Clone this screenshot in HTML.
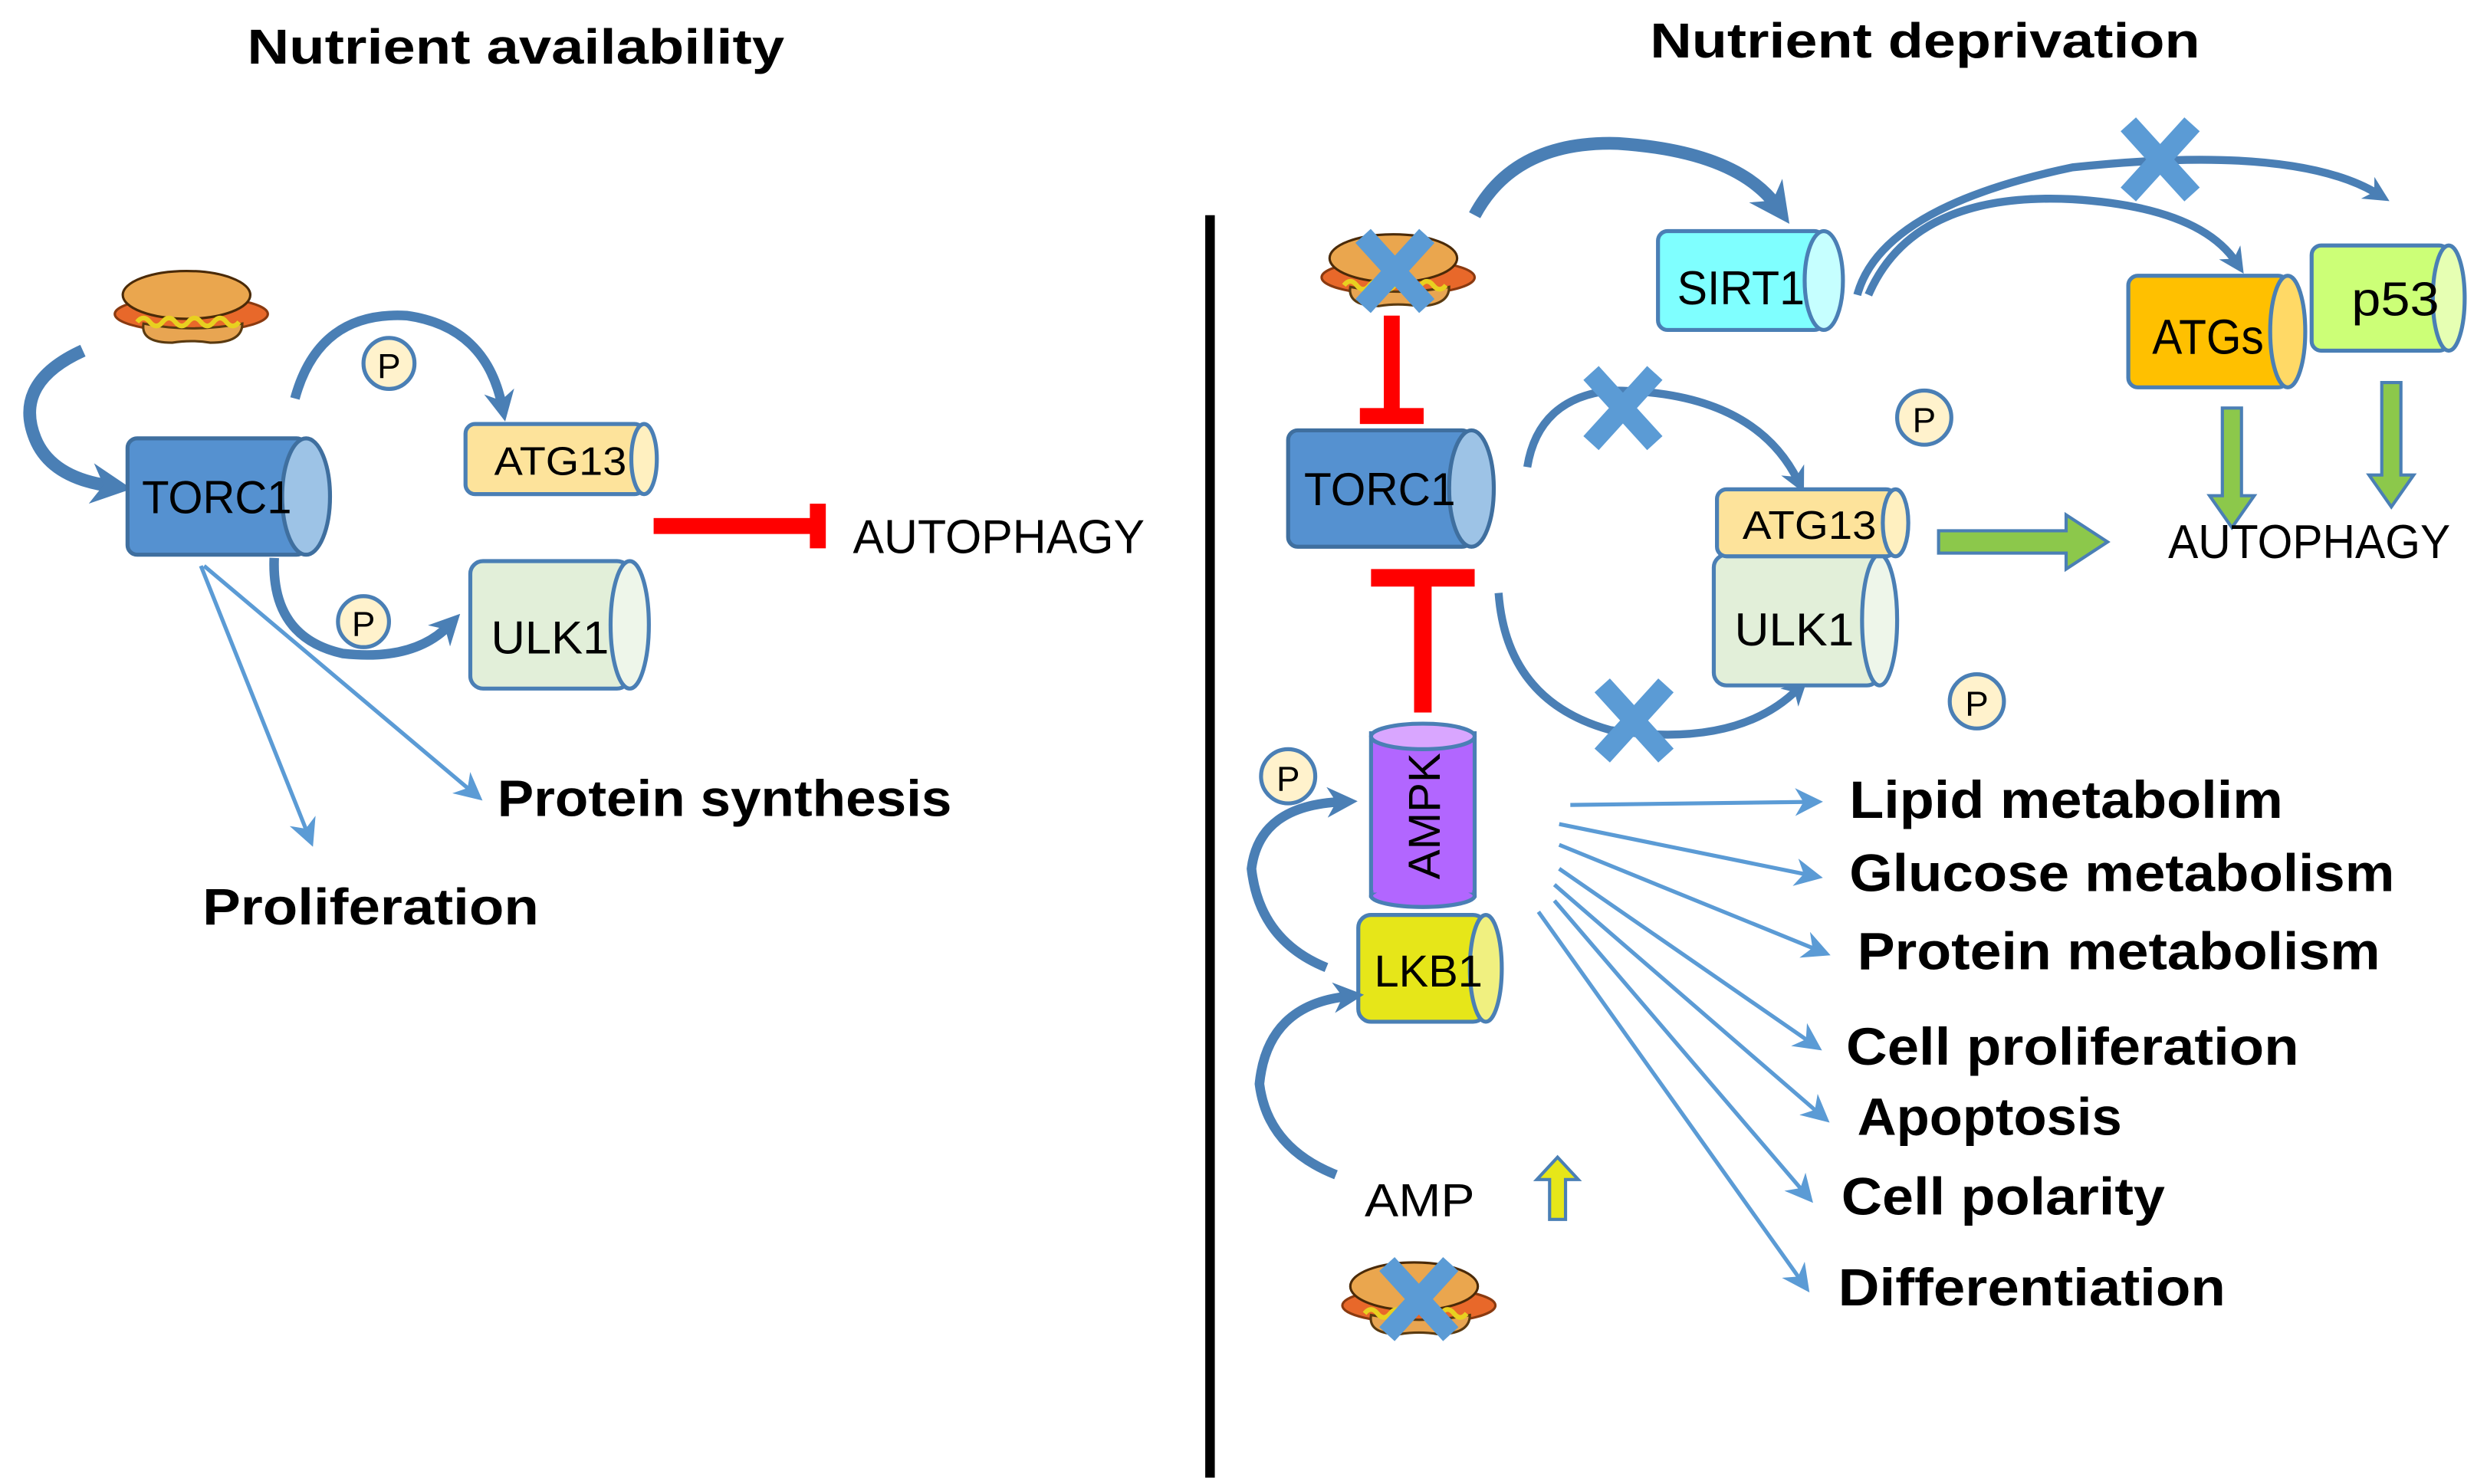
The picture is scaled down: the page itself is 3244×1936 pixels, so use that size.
<!DOCTYPE html>
<html><head><meta charset="utf-8"><style>
html,body{margin:0;padding:0;background:#fff}
svg{display:block}
text{font-family:"Liberation Sans",sans-serif}
.b{font-weight:bold}
</style></head><body>
<svg width="3244" height="1936" viewBox="0 0 1560 931" xmlns="http://www.w3.org/2000/svg">
<defs>
<marker id="ah" viewBox="0 0 10 10" refX="5" refY="5" markerWidth="3.2" markerHeight="3.2" orient="auto"><path d="M0,0 L10,5 L0,10 L3,5z" fill="#4a7fb5"/></marker>
<marker id="th" viewBox="0 0 10 10" refX="8" refY="5" markerWidth="7" markerHeight="7" orient="auto"><path d="M0,0 L10,5 L0,10 L3,5z" fill="#5b9bd5"/></marker>
<g id="dog">
<ellipse cx="0" cy="4" rx="48" ry="11" fill="#e8682a" stroke="#8a3a10" stroke-width="1.5"/>
<path d="M-30,10 Q-32,22 -12,22 Q0,20 12,22 Q32,22 32,10 Q0,16 -30,10z" fill="#e8a552" stroke="#5a3a10" stroke-width="1.5"/>
<ellipse cx="-3" cy="-8" rx="40" ry="15" fill="#eaa64e" stroke="#4a2a08" stroke-width="1.5"/>
<path d="M-34,9 q4,-5 8,0 t8,0 t8,0 t8,0 t8,0 t8,0 t8,0 t8,0" fill="none" stroke="#e8d020" stroke-width="3"/>
</g>
<g id="xx"><path d="M-20,-22 L20,22 M20,-22 L-20,22" stroke="#5b9bd5" stroke-width="13"/></g>
</defs>

<text x="155" y="40" class="b" font-size="31" textLength="337" lengthAdjust="spacingAndGlyphs">Nutrient availability</text>
<text x="1035" y="36" class="b" font-size="31" textLength="345" lengthAdjust="spacingAndGlyphs">Nutrient deprivation</text>
<rect x="756" y="135" width="6" height="792" fill="#000"/>

<!-- LEFT -->
<use href="#dog" x="120" y="193"/>
<path d="M52,220 Q8,240 22,275 Q32,300 70,305" fill="none" stroke="#4a7fb5" stroke-width="8" marker-end="url(#ah)"/>
<path d="M185,250 Q200,195 255,198 Q305,205 315,255" fill="none" stroke="#4a7fb5" stroke-width="6" marker-end="url(#ah)"/>
<path d="M172,350 Q170,400 215,410 Q260,415 282,392" fill="none" stroke="#4a7fb5" stroke-width="6" marker-end="url(#ah)"/>
<rect x="80" y="275" width="112" height="73" rx="6" fill="#5591d0" stroke="#3f6f9f" stroke-width="2.5"/>
<ellipse cx="192" cy="311.5" rx="15" ry="36.5" fill="#9dc3e6" stroke="#3f6f9f" stroke-width="2.5"/>
<text x="89" y="322" font-size="29" textLength="94" lengthAdjust="spacingAndGlyphs">TORC1</text>
<rect x="292" y="266" width="112" height="44" rx="6" fill="#fde39b" stroke="#4a7fb5" stroke-width="2.5"/>
<ellipse cx="404" cy="288" rx="8" ry="22" fill="#fff0c0" stroke="#4a7fb5" stroke-width="2.5"/>
<text x="310" y="298" font-size="25" textLength="83" lengthAdjust="spacingAndGlyphs">ATG13</text>
<rect x="295" y="352" width="100" height="80" rx="8" fill="#e2efd9" stroke="#4a7fb5" stroke-width="2.5"/>
<ellipse cx="395" cy="392" rx="12" ry="40" fill="#eef6ea" stroke="#4a7fb5" stroke-width="2.5"/>
<text x="308" y="410" font-size="29" textLength="74" lengthAdjust="spacingAndGlyphs">ULK1</text>
<circle cx="244" cy="228" r="16" fill="#fff2cc" stroke="#4a7fb5" stroke-width="2.5"/><text x="244" y="237" text-anchor="middle" font-size="22">P</text>
<circle cx="228" cy="390" r="16" fill="#fff2cc" stroke="#4a7fb5" stroke-width="2.5"/><text x="228" y="399" text-anchor="middle" font-size="22">P</text>
<rect x="410" y="325" width="102" height="10" fill="#f00"/><rect x="508" y="316" width="10" height="28" fill="#f00"/>
<text x="535" y="347" font-size="30" textLength="183" lengthAdjust="spacingAndGlyphs">AUTOPHAGY</text>
<line x1="126" y1="355" x2="195" y2="528" stroke="#5b9bd5" stroke-width="2.5" marker-end="url(#th)"/>
<line x1="128" y1="355" x2="300" y2="500" stroke="#5b9bd5" stroke-width="2.5" marker-end="url(#th)"/>
<text x="312" y="512" class="b" font-size="32" textLength="285" lengthAdjust="spacingAndGlyphs">Protein synthesis</text>
<text x="127" y="580" class="b" font-size="32" textLength="211" lengthAdjust="spacingAndGlyphs">Proliferation</text>

<!-- RIGHT -->
<use href="#dog" x="877" y="170"/><use href="#xx" x="875" y="170"/>
<path d="M925,135 Q950,88 1015,90 Q1090,95 1115,130" fill="none" stroke="#4a7fb5" stroke-width="8" marker-end="url(#ah)"/>
<path d="M1165,185 Q1180,130 1300,105 Q1440,90 1492,122" fill="none" stroke="#4a7fb5" stroke-width="5" marker-end="url(#ah)"/>
<path d="M1172,185 Q1200,120 1300,125 Q1380,130 1403,165" fill="none" stroke="#4a7fb5" stroke-width="5" marker-end="url(#ah)"/>
<use href="#xx" x="1355" y="100"/>
<rect x="1040" y="145" width="104" height="62" rx="6" fill="#7fffff" stroke="#4a7fb5" stroke-width="2.5"/>
<ellipse cx="1144" cy="176" rx="12" ry="31" fill="#c6ffff" stroke="#4a7fb5" stroke-width="2.5"/>
<text x="1052" y="191" font-size="30" textLength="80" lengthAdjust="spacingAndGlyphs">SIRT1</text>
<rect x="1450" y="154" width="86" height="66" rx="6" fill="#ccff77" stroke="#4a7fb5" stroke-width="2.5"/>
<ellipse cx="1536" cy="187" rx="10" ry="33" fill="#e6ffb3" stroke="#4a7fb5" stroke-width="2.5"/>
<text x="1475" y="198" font-size="30" textLength="55" lengthAdjust="spacingAndGlyphs">p53</text>
<rect x="1335" y="173" width="100" height="70" rx="6" fill="#ffc000" stroke="#4a7fb5" stroke-width="2.5"/>
<ellipse cx="1435" cy="208" rx="11" ry="35" fill="#ffd966" stroke="#4a7fb5" stroke-width="2.5"/>
<text x="1350" y="222" font-size="31" textLength="70" lengthAdjust="spacingAndGlyphs">ATGs</text>
<path d="M1394,256 h12 v55 h8 l-14,20 l-14,-20 h8z" fill="#8cc84b" stroke="#4a7fb5" stroke-width="2"/>
<path d="M1494,240 h12 v58 h8 l-14,20 l-14,-20 h8z" fill="#8cc84b" stroke="#4a7fb5" stroke-width="2"/>
<text x="1360" y="350" font-size="30" textLength="177" lengthAdjust="spacingAndGlyphs">AUTOPHAGY</text>
<rect x="868" y="198" width="10" height="60" fill="#f00"/><rect x="853" y="256" width="40" height="10" fill="#f00"/>
<rect x="808" y="270" width="115" height="73" rx="6" fill="#5591d0" stroke="#3f6f9f" stroke-width="2.5"/>
<ellipse cx="923" cy="306.5" rx="14" ry="36.5" fill="#9dc3e6" stroke="#3f6f9f" stroke-width="2.5"/>
<text x="818" y="317" font-size="29" textLength="95" lengthAdjust="spacingAndGlyphs">TORC1</text>
<path d="M958,293 Q965,250 1010,245 Q1100,245 1128,302" fill="none" stroke="#4a7fb5" stroke-width="5" marker-end="url(#ah)"/>
<use href="#xx" x="1018" y="256"/>
<path d="M940,372 Q945,440 1010,458 Q1090,470 1128,432" fill="none" stroke="#4a7fb5" stroke-width="5" marker-end="url(#ah)"/>
<use href="#xx" x="1025" y="452"/>
<circle cx="1207" cy="262" r="17" fill="#fff2cc" stroke="#4a7fb5" stroke-width="2.5"/><text x="1207" y="271" text-anchor="middle" font-size="22">P</text>
<circle cx="1240" cy="440" r="17" fill="#fff2cc" stroke="#4a7fb5" stroke-width="2.5"/><text x="1240" y="449" text-anchor="middle" font-size="22">P</text>
<rect x="1075" y="348" width="104" height="82" rx="8" fill="#e2efd9" stroke="#4a7fb5" stroke-width="2.5"/>
<ellipse cx="1179" cy="389" rx="11" ry="41" fill="#eef6ea" stroke="#4a7fb5" stroke-width="2.5"/>
<text x="1088" y="405" font-size="29" textLength="75" lengthAdjust="spacingAndGlyphs">ULK1</text>
<rect x="1077" y="307" width="112" height="42" rx="6" fill="#fde39b" stroke="#4a7fb5" stroke-width="2.5"/>
<ellipse cx="1189" cy="328" rx="8" ry="21" fill="#fff0c0" stroke="#4a7fb5" stroke-width="2.5"/>
<text x="1093" y="338" font-size="25" textLength="84" lengthAdjust="spacingAndGlyphs">ATG13</text>
<path d="M1216,333 h80 v-10 l26,17 l-26,17 v-10 h-80z" fill="#8cc84b" stroke="#4a7fb5" stroke-width="2"/>
<rect x="860" y="357" width="65" height="11" fill="#f00"/><rect x="887" y="366" width="11" height="81" fill="#f00"/>
<rect x="860" y="460" width="65" height="102" fill="#b266ff" stroke="#4a7fb5" stroke-width="2.5"/>
<ellipse cx="892.5" cy="562" rx="32.5" ry="7" fill="#b266ff" stroke="#4a7fb5" stroke-width="2.5"/>
<rect x="861.5" y="470" width="62" height="90" fill="#b266ff"/>
<ellipse cx="892.5" cy="462" rx="32.5" ry="8" fill="#d9a6ff" stroke="#4a7fb5" stroke-width="2.5"/>
<text transform="translate(903,512) rotate(-90)" text-anchor="middle" font-size="28">AMPK</text>
<circle cx="808" cy="487" r="17" fill="#fff2cc" stroke="#4a7fb5" stroke-width="2.5"/><text x="808" y="496" text-anchor="middle" font-size="22">P</text>
<rect x="852" y="574" width="80" height="67" rx="8" fill="#e6e619" stroke="#4a7fb5" stroke-width="2.5"/>
<ellipse cx="932" cy="607.5" rx="10" ry="33.5" fill="#f0f080" stroke="#4a7fb5" stroke-width="2.5"/>
<text x="862" y="619" font-size="28" textLength="68" lengthAdjust="spacingAndGlyphs">LKB1</text>
<path d="M832,607 Q790,590 785,545 Q790,505 842,503" fill="none" stroke="#4a7fb5" stroke-width="6" marker-end="url(#ah)"/>
<path d="M838,737 Q795,720 790,680 Q795,630 846,625" fill="none" stroke="#4a7fb5" stroke-width="6" marker-end="url(#ah)"/>
<text x="856" y="763" font-size="29" textLength="69" lengthAdjust="spacingAndGlyphs">AMP</text>
<path d="M972,765 v-25 h-8 l13,-14 l13,14 h-8 v25z" fill="#e6e619" stroke="#4a7fb5" stroke-width="2"/>
<use href="#dog" x="890" y="815"/><use href="#xx" x="890" y="815"/>
<g stroke="#5b9bd5" stroke-width="2.5" marker-end="url(#th)">
<line x1="985" y1="505" x2="1140" y2="503"/>
<line x1="978" y1="517" x2="1140" y2="550"/>
<line x1="978" y1="530" x2="1145" y2="598"/>
<line x1="978" y1="545" x2="1140" y2="657"/>
<line x1="975" y1="555" x2="1145" y2="702"/>
<line x1="975" y1="565" x2="1135" y2="752"/>
<line x1="965" y1="572" x2="1133" y2="808"/>
</g>
<g class="b" font-size="33">
<text x="1160" y="513" textLength="272" lengthAdjust="spacingAndGlyphs">Lipid metabolim</text>
<text x="1160" y="559" textLength="342" lengthAdjust="spacingAndGlyphs">Glucose metabolism</text>
<text x="1165" y="608" textLength="328" lengthAdjust="spacingAndGlyphs">Protein metabolism</text>
<text x="1158" y="668" textLength="284" lengthAdjust="spacingAndGlyphs">Cell proliferation</text>
<text x="1165" y="712" textLength="166" lengthAdjust="spacingAndGlyphs">Apoptosis</text>
<text x="1155" y="762" textLength="203" lengthAdjust="spacingAndGlyphs">Cell polarity</text>
<text x="1153" y="819" textLength="243" lengthAdjust="spacingAndGlyphs">Differentiation</text>
</g>
</svg>
</body></html>
